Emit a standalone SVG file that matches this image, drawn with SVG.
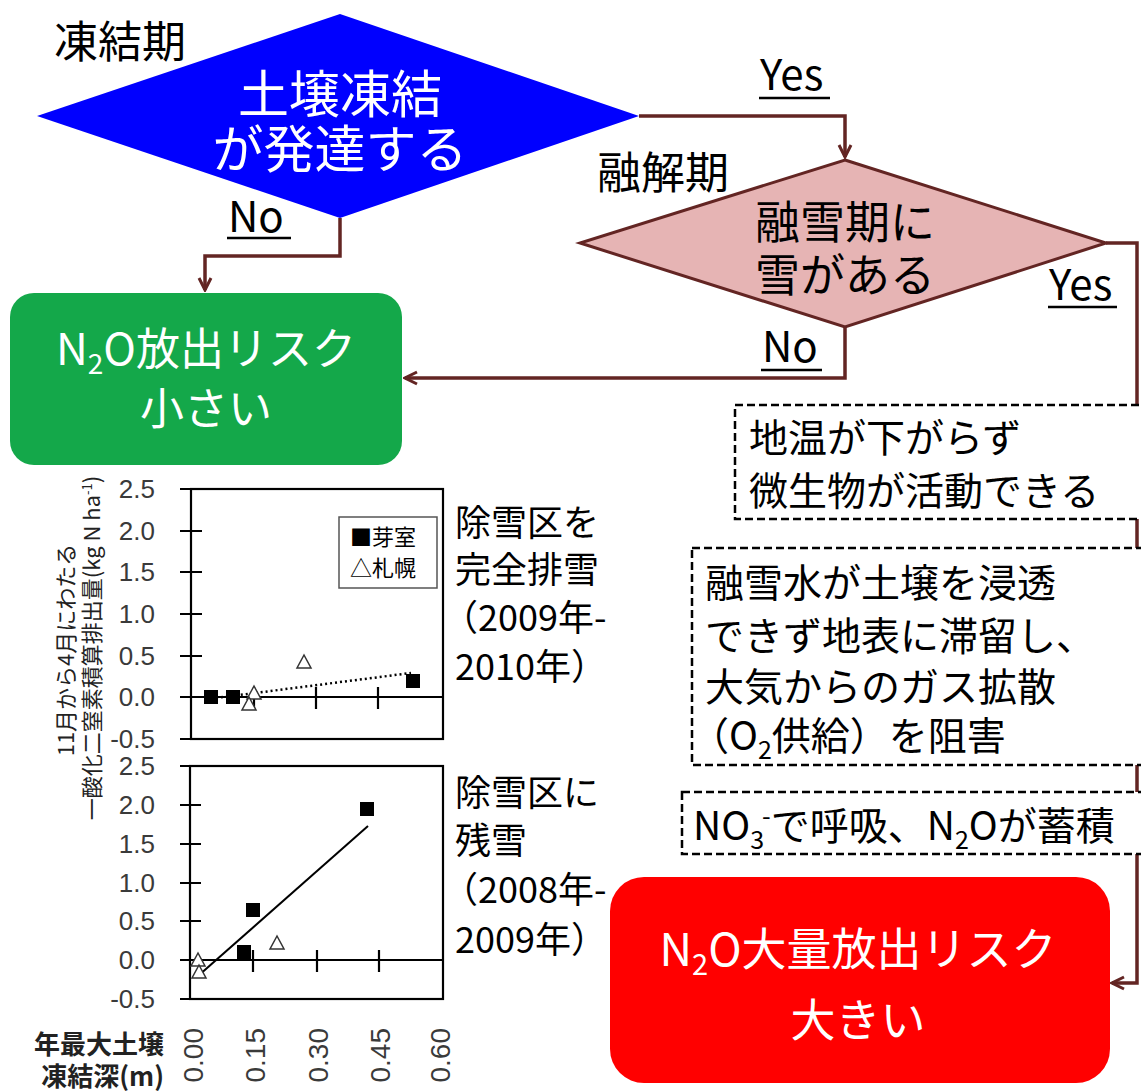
<svg xmlns="http://www.w3.org/2000/svg" width="1141" height="1092" viewBox="0 0 1141 1092">
<defs>
<style>
.jp{font-family:"Noto Sans CJK JP","Noto Sans",sans-serif}
.conn{fill:none;stroke:#632523;stroke-width:3.5}
.dash{fill:#fff;stroke:#000;stroke-width:2.5;stroke-dasharray:8 4}
.ul{stroke:#000;stroke-width:2.5}
.ax{stroke:#000;stroke-width:2.2;fill:none}
.tick{font-family:"Liberation Sans",Arial,sans-serif;font-size:26px;fill:#3a3a3a;text-anchor:end}
.xt{font-family:"Liberation Sans",Arial,sans-serif;font-size:28px;fill:#3a3a3a;text-anchor:end}
.sq{fill:#000}
.tri{fill:#fff;stroke:#333;stroke-width:1.5}
.lab{font-size:42px;fill:#000}
.box{font-size:39px;fill:#000}
.side{font-size:36px;fill:#000}
</style>
<marker id="arr" viewBox="0 0 16 16" refX="14" refY="8" markerWidth="16" markerHeight="16" markerUnits="userSpaceOnUse" orient="auto"><path d="M2,2 L14,8 L2,14" fill="none" stroke="#632523" stroke-width="3"/></marker>
</defs>
<rect width="1141" height="1092" fill="#fff"/>

<g id="connectors">
<path class="conn" d="M639,116 H845 V157" marker-end="url(#arr)"/>
<path class="conn" d="M340,218 V256 H205 V290" marker-end="url(#arr)"/>
<path class="conn" d="M845,327 V378 H405" marker-end="url(#arr)"/>
<path class="conn" d="M1106,243 H1137 V983 H1112" marker-end="url(#arr)"/>
</g>

<g id="label-freeze">
<text class="jp" x="54" y="58" font-size="44">凍結期</text>
</g>
<g id="node-soil-freeze">
<polygon points="340,14 639,116 340,218 37,116" fill="#0000ff"/>
<text class="jp" x="340" y="113" font-size="51" fill="#fff" text-anchor="middle">土壌凍結</text>
<text class="jp" x="340" y="168" font-size="51" fill="#fff" text-anchor="middle">が発達する</text>
</g>
<g id="label-yes-1">
<text class="jp lab" x="760" y="90">Yes</text>
<line class="ul" x1="759" y1="98" x2="830" y2="98"/>
</g>
<g id="label-no-1">
<text class="jp lab" x="228" y="232">No</text>
<line class="ul" x1="227" y1="238" x2="291" y2="238"/>
</g>
<g id="label-thaw">
<text class="jp" x="597" y="189" font-size="44">融解期</text>
</g>
<g id="node-snow">
<polygon points="845,160 1106,243 845,327 580,243" fill="#e6b4b4" stroke="#632523" stroke-width="3"/>
<text class="jp" x="845" y="239" font-size="45" fill="#000" text-anchor="middle">融雪期に</text>
<text class="jp" x="845" y="292" font-size="45" fill="#000" text-anchor="middle">雪がある</text>
</g>
<g id="label-yes-2">
<text class="jp lab" x="1049" y="300">Yes</text>
<line class="ul" x1="1048" y1="307" x2="1117" y2="307"/>
</g>
<g id="label-no-2">
<text class="jp lab" x="762" y="362">No</text>
<line class="ul" x1="761" y1="370" x2="822" y2="370"/>
</g>

<g id="node-low-risk">
<rect x="10" y="293" width="392" height="172" rx="24" fill="#14a84a"/>
<text class="jp" x="206" y="365" font-size="44" fill="#fff" text-anchor="middle">N<tspan font-size="28" dy="9">2</tspan><tspan dy="-9">O放出リスク</tspan></text>
<text class="jp" x="206" y="425" font-size="44" fill="#fff" text-anchor="middle">小さい</text>
</g>

<g id="node-step1">
<rect class="dash" x="735" y="405" width="420" height="114"/>
<text class="jp box" x="749" y="452">地温が下がらず</text>
<text class="jp box" x="749" y="505">微生物が活動できる</text>
</g>
<g id="node-step2">
<rect class="dash" x="692" y="548" width="460" height="217"/>
<text class="jp box" x="705" y="597">融雪水が土壌を浸透</text>
<text class="jp box" x="705" y="650">できず地表に滞留し、</text>
<text class="jp box" x="705" y="701">大気からのガス拡散</text>
<text class="jp box" x="690" y="750">（O<tspan font-size="25" dy="9">2</tspan><tspan dy="-9">供給）を阻害</tspan></text>
</g>
<g id="node-step3">
<rect class="dash" x="682" y="792" width="470" height="62"/>
<text class="jp box" x="693" y="840">NO<tspan font-size="25" dy="9">3</tspan><tspan font-size="25" dy="-24" dx="-2">-</tspan><tspan dy="15">で呼吸、N</tspan><tspan font-size="25" dy="9">2</tspan><tspan dy="-9">Oが蓄積</tspan></text>
</g>

<g id="node-high-risk">
<rect x="610" y="877" width="500" height="206" rx="34" fill="#ff0000"/>
<text class="jp" x="858" y="966" font-size="45" fill="#fff" text-anchor="middle">N<tspan font-size="29" dy="9">2</tspan><tspan dy="-9">O大量放出リスク</tspan></text>
<text class="jp" x="858" y="1037" font-size="45" fill="#fff" text-anchor="middle">大きい</text>
</g>

<g id="chart">
<text class="jp" transform="translate(74,650) rotate(-90)" font-size="22" text-anchor="middle" fill="#222">11月から4月にわたる</text>
<text class="jp" transform="translate(100,648) rotate(-90)" font-size="22" text-anchor="middle" fill="#222">一酸化二窒素積算排出量(kg N ha<tspan font-size="13" dy="-8">-1</tspan><tspan dy="8">)</tspan></text>

<rect class="ax" x="191" y="489" width="252" height="250"/>
<path class="ax" d="M180,489 H191 M180,531 H202 M180,572 H202 M180,614 H202 M180,656 H202 M180,739 H191 M180,697 H443 M254,687 V709 M316,687 V709 M378,687 V709"/>
<g class="tick">
<text x="155" y="498">2.5</text><text x="155" y="540">2.0</text><text x="155" y="581">1.5</text><text x="155" y="623">1.0</text><text x="155" y="665">0.5</text><text x="155" y="706">0.0</text><text x="155" y="748">-0.5</text>
</g>
<rect x="339" y="517" width="98" height="71" fill="#fff" stroke="#555" stroke-width="1.5"/>
<text class="jp" x="350" y="545" font-size="22" fill="#000">■芽室</text>
<text class="jp" x="350" y="576" font-size="22" fill="#000">△札幌</text>
<line x1="216" y1="698" x2="411" y2="673" stroke="#000" stroke-width="2.5" stroke-dasharray="2 3"/>
<rect class="sq" x="204" y="690" width="14" height="14"/>
<rect class="sq" x="226" y="690" width="14" height="14"/>
<rect class="sq" x="406" y="674" width="14" height="14"/>
<polygon class="tri" points="254,686 247,699 261,699"/>
<polygon class="tri" points="249,697 242,710 256,710"/>
<polygon class="tri" points="304,655 297,668 311,668"/>

<rect class="ax" x="190" y="766" width="253" height="233"/>
<path class="ax" d="M180,766 H190 M180,805 H201 M180,844 H201 M180,883 H201 M180,921 H201 M180,999 H190 M180,960 H443 M253,950 V972 M317,950 V972 M379,950 V972"/>
<g class="tick">
<text x="155" y="775">2.5</text><text x="155" y="814">2.0</text><text x="155" y="853">1.5</text><text x="155" y="892">1.0</text><text x="155" y="930">0.5</text><text x="155" y="969">0.0</text><text x="155" y="1008">-0.5</text>
</g>
<line x1="198" y1="976" x2="368" y2="826" stroke="#000" stroke-width="2"/>
<rect class="sq" x="360" y="802" width="14" height="14"/>
<rect class="sq" x="246" y="903" width="14" height="14"/>
<rect class="sq" x="237" y="945" width="14" height="14"/>
<polygon class="tri" points="277,936 270,949 284,949"/>
<polygon class="tri" points="198,953 191,966 205,966"/>
<polygon class="tri" points="199,965 192,978 206,978"/>

<text class="xt" transform="translate(203,1028) rotate(-90)">0.00</text>
<text class="xt" transform="translate(265,1028) rotate(-90)">0.15</text>
<text class="xt" transform="translate(328,1028) rotate(-90)">0.30</text>
<text class="xt" transform="translate(390,1028) rotate(-90)">0.45</text>
<text class="xt" transform="translate(450,1028) rotate(-90)">0.60</text>
<text class="jp" x="164" y="1054" font-size="26" font-weight="bold" text-anchor="end" fill="#222">年最大土壌</text>
<text class="jp" x="164" y="1086" font-size="26" font-weight="bold" text-anchor="end" fill="#222">凍結深(m)</text>

<text class="jp side" x="455" y="536">除雪区を</text>
<text class="jp side" x="455" y="583">完全排雪</text>
<text class="jp side" x="442" y="631">（2009年-</text>
<text class="jp side" x="455" y="680">2010年）</text>
<text class="jp side" x="455" y="806">除雪区に</text>
<text class="jp side" x="455" y="854">残雪</text>
<text class="jp side" x="442" y="903">（2008年-</text>
<text class="jp side" x="455" y="953">2009年）</text>
</g>
</svg>
